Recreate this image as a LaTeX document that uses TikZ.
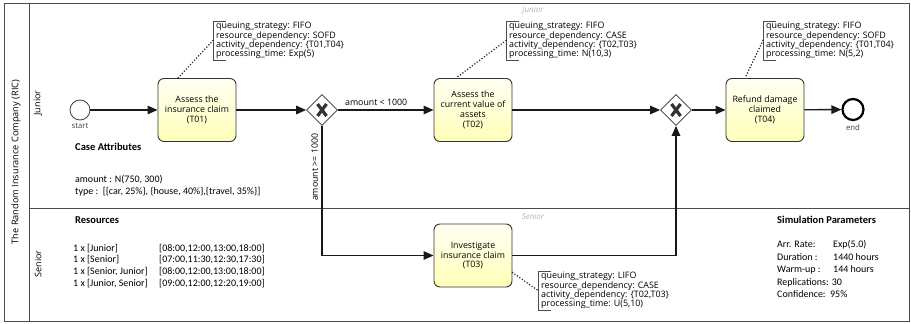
\documentclass[tikz,border=0pt]{standalone}
\usepackage{fontspec}
\setmainfont{Open Sans}
\newfontfamily\calibri{Carlito}
\usetikzlibrary{arrows.meta,positioning,shapes.geometric}

\begin{document}
\begin{tikzpicture}[
    x=1pt, y=-1pt,
    frame/.style={draw=black!70, line width=0.8pt},
    task/.style={draw=black!80, line width=0.9pt, rounded corners=6pt, minimum width=78pt, minimum height=63pt, align=center, inner sep=2pt, top color=yellow!5!white, bottom color=yellow!28!white, font=\fontsize{8.8}{9.8}\selectfont},
    gateway/.style={diamond, draw=black!80, line width=0.8pt, fill=white, minimum width=31pt, minimum height=31pt, inner sep=0pt,
        path picture={\draw[line width=3.2pt] ([shift={(-4.5pt,-6pt)}]path picture bounding box.center) -- ([shift={(4.5pt,6pt)}]path picture bounding box.center);
                      \draw[line width=3.2pt] ([shift={(-4.5pt,6pt)}]path picture bounding box.center) -- ([shift={(4.5pt,-6pt)}]path picture bounding box.center);}},
    startev/.style={circle, draw=black!75, line width=0.8pt, fill=white, minimum size=20pt, inner sep=0pt},
    endev/.style={circle, draw=black, line width=2.2pt, fill=white, minimum size=21pt, inner sep=0pt},
    evlabel/.style={inner sep=1pt, font=\fontsize{7.8}{8}\selectfont, text=black!75},
    flow/.style={-{Triangle[length=10pt,width=8.5pt]}, line width=1.4pt, draw=black!90},
    annot/.style={anchor=north west, inner xsep=3pt, inner ysep=1pt, align=left, font=\fontsize{8.9}{9.3}\selectfont},
    bracket/.style={draw=black!70, line width=0.7pt},
    assoc/.style={line width=1.7pt, dash pattern=on 0pt off 3pt, line cap=round, draw=black!85},
    lanename/.style={rotate=90, font=\fontsize{9}{10}\selectfont},
    lanetitle/.style={font=\fontsize{8}{9}\selectfont\itshape, text=black!30},
    heading/.style={anchor=west, inner sep=0pt, font=\calibri\bfseries\fontsize{10.5}{12}\selectfont},
    info/.style={anchor=north west, inner sep=0pt, align=left, font=\calibri\fontsize{10}{12}\selectfont}
]
\useasboundingbox (0,0) rectangle (911,324);

% pool and lanes
\draw[frame] (4,3) rectangle (909.5,321);
\draw[frame] (29,3) -- (29,321);
\draw[frame] (29,208) -- (909.5,208);
\node[rotate=90, font=\fontsize{9.2}{10}\selectfont] (pool) at (16,162) {The Random Insurance Company (RIC)};
\node[lanename] (junior) at (38,103) {Junior};
\node[lanename] (senior) at (38,264) {Senior};
\node[lanetitle] (juniortitle) at (533,10) {Junior};
\node[lanetitle] (seniortitle) at (533,217) {Senior};

% process
\node[startev] (start) at (80,110) {};
\node[evlabel, below=2pt of start] (startlbl) {start};
\node[task] (t01) at (197,110) {Assess the\\insurance claim\\(T01)};
\node[gateway] (gw1) at (322,110) {};
\node[task] (t02) at (473,110) {Assess the\\current value of\\assets\\(T02)};
\node[task] (t03) at (473,255.5) {Investigate\\insurance claim\\(T03)};
\node[gateway] (gw2) at (676,110) {};
\node[task] (t04) at (765,110) {Refund damage\\claimed\\(T04)};
\node[endev] (end) at (853,109.5) {};
\node[evlabel, below=2pt of end] (endlbl) {end};

\draw[flow] (start) -- (t01);
\draw[flow] (t01) -- (gw1);
\draw[flow] (gw1) -- node[above, font=\fontsize{8.8}{9}\selectfont, pos=0.4] (lt) {amount < 1000} (t02);
\draw[flow] (gw1) |- node[rotate=90, above, pos=0.16, font=\fontsize{8.8}{9}\selectfont] (ge) {amount >= 1000} (t03);
\draw[flow] (t02) -- (gw2);
\draw[flow] (t03) -| (gw2);
\draw[flow] (gw2) -- (t04);
\draw[flow] (t04) -- (end);

% annotations
\node[annot] (a1) at (213,21) {queuing\_strategy: FIFO\\resource\_dependency: SOFD\\activity\_dependency: \{T01,T04\}\\processing\_time: Exp(5)};
\node[annot] (a2) at (506,21) {queuing\_strategy: FIFO\\resource\_dependency: CASE\\activity\_dependency: \{T02,T03\}\\processing\_time: N(10,3)};
\node[annot] (a3) at (763,21) {queuing\_strategy: FIFO\\resource\_dependency: SOFD\\activity\_dependency: \{T01,T04\}\\processing\_time: N(5,2)};
\node[annot] (a4) at (538,271) {queuing\_strategy: LIFO\\resource\_dependency: CASE\\activity\_dependency: \{T02,T03\}\\processing\_time: U(5,10)};
\draw[bracket] ([xshift=13pt]a1.north west) -- (a1.north west) -- (a1.south west) -- ([xshift=13pt]a1.south west);
\draw[bracket] ([xshift=13pt]a2.north west) -- (a2.north west) -- (a2.south west) -- ([xshift=13pt]a2.south west);
\draw[bracket] ([xshift=13pt]a3.north west) -- (a3.north west) -- (a3.south west) -- ([xshift=13pt]a3.south west);
\draw[bracket] ([xshift=13pt]a4.north west) -- (a4.north west) -- (a4.south west) -- ([xshift=13pt]a4.south west);
\draw[assoc] (a1.west) -- ([xshift=-19pt]t01.north);
\draw[assoc] (a2.west) -- ([xshift=-17pt]t02.north);
\draw[assoc] (a3.west) -- ([xshift=-20pt]t04.north);
\draw[assoc] ([yshift=-17pt]t03.east) -- (a4.west);

% case attributes, resources, simulation parameters
\node[heading] (casehead) at (75,147) {Case Attributes};
\node[info] (caseattr) at (75,175) {amount : N(750, 300)\\type :\ \ [\{car, 25\%\}, \{house, 40\%\},\{travel, 35\%\}]};
\node[heading] (reshead) at (75,220) {Resources};
\node[info, font=\calibri\fontsize{10}{11.6}\selectfont] (res) at (73,243) {%
  \begin{tabular}{@{}p{86pt}@{}l@{}}
  1 x [Junior] & [08:00,12:00,13:00,18:00]\\
  1 x [Senior] & [07:00,11:30,12:30,17:30]\\
  1 x [Senior, Junior] & [08:00,12:00,13:00,18:00]\\
  1 x [Junior, Senior] & [09:00,12:00,12:20,19:00]
  \end{tabular}};
\node[heading] (simhead) at (777,220) {Simulation Parameters};
\node[info, font=\calibri\fontsize{10}{12.5}\selectfont] (sim) at (777,239) {%
  \begin{tabular}{@{}p{56pt}@{}l@{}}
  Arr. Rate: & Exp(5.0)\\
  Duration : & 1440 hours\\
  Warm-up : & 144 hours\\
  \multicolumn{2}{@{}l@{}}{Replications: 30}\\
  \multicolumn{2}{@{}l@{}}{Confidence:\ \ 95\%}
  \end{tabular}};
\end{tikzpicture}
\end{document}
